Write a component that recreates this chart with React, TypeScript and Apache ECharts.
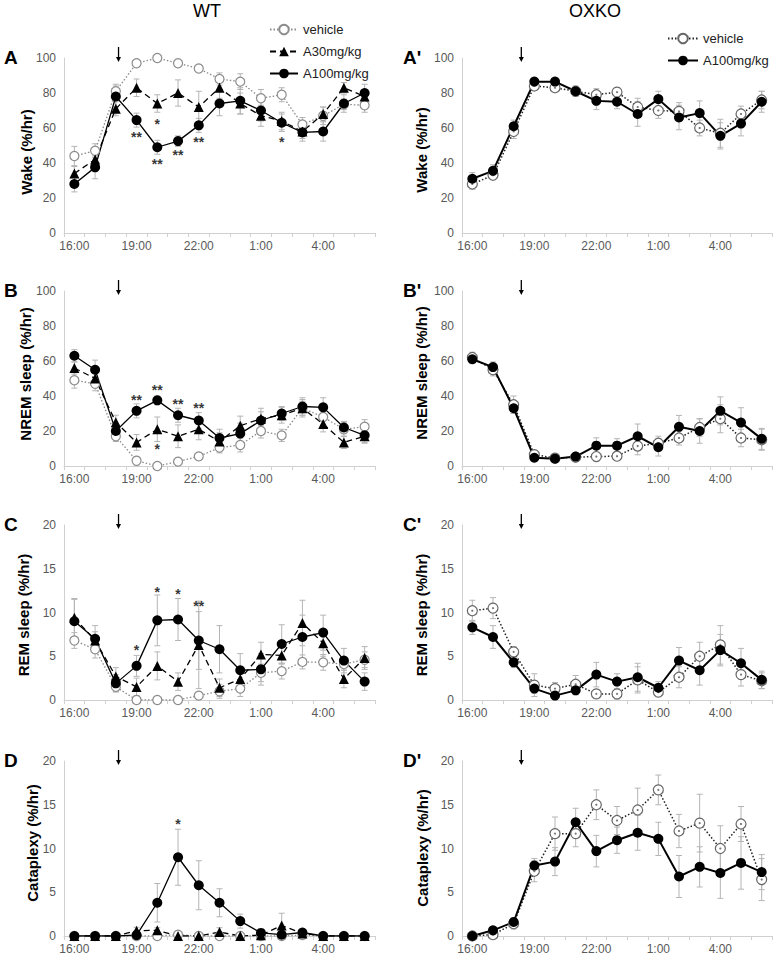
import React, { useEffect, useRef } from 'react';
import * as echarts from 'echarts';

const FONT = '"Liberation Sans", Arial, sans-serif';
const HOURS = ['16:00','17:00','18:00','19:00','20:00','21:00','22:00','23:00','0:00','1:00','2:00','3:00','4:00','5:00','6:00'];

// WT wake
const wtWakeVeh = [44, 47, 81, 97, 100, 97, 94, 88, 86.5, 77, 79, 62, 67, 73.5, 73];
const wtWakeVehErr = [5.5, 4, 4, 2, 1, 1.5, 2, 3.5, 4.5, 5, 4, 4, 5, 3, 4];
const wtWakeA30 = [34, 42, 71, 83, 74, 80, 72, 83, 74, 67, 64, 58, 68, 83, 78];
const wtWakeA30Err = [4, 6, 4, 5, 5, 7.5, 9, 6, 6, 6, 5, 4, 4, 3, 4];
const wtWakeA100 = [28, 37.5, 78, 64.5, 49, 52.5, 61.5, 74, 75.5, 70, 63, 57.5, 58, 74, 80];
const wtWakeA100Err = [4.5, 6.5, 6, 4, 4, 3, 4, 7, 7.5, 6, 5, 5, 5.5, 5, 5];
const wtWakeStars = [[3, 56.5, '**'], [4, 64, '*'], [4, 41, '**'], [5, 46, '**'], [6, 53.5, '**'], [10, 53.5, '*']];

// OXKO wake
const koWakeVeh = [28, 33, 58, 84, 83, 81, 79, 80.5, 72, 70, 69.5, 60, 57, 68, 76];
const koWakeVehErr = [3, 2.5, 4, 1.5, 2, 2, 3.5, 2.5, 5, 4.5, 5, 4.5, 8, 4.5, 5];
const koWakeA100 = [31, 35.5, 61, 86.5, 86.5, 81, 75.5, 75, 68, 76.5, 66, 68.5, 55.5, 62.5, 75];
const koWakeA100Err = [3.5, 3.5, 3.5, 1.5, 1.5, 3, 5, 4, 7, 4.5, 7, 7, 7.5, 7, 6];

// WT NREM
const wtNremVeh = [49, 47, 17, 3, 0, 2.5, 5.5, 10.5, 12, 20, 17.5, 33, 28, 21, 22.5];
const wtNremVehErr = [4.5, 4, 3, 2.5, 0.5, 1.5, 2, 3, 4, 4, 3.5, 4, 4.5, 4, 4];
const wtNremA30 = [56, 50, 25, 13.5, 21, 17, 21, 14, 23, 27, 29, 33, 24, 13.5, 17];
const wtNremA30Err = [3.5, 5, 4, 4.5, 7, 6.5, 6, 5, 5.5, 4, 4.5, 5, 4.5, 3.5, 4];
const wtNremA100 = [63, 55, 20, 31.5, 37.5, 29, 26, 16, 18.5, 26, 30, 34, 33.5, 22, 17.5];
const wtNremA100Err = [3.5, 5.5, 4, 4, 2.5, 4, 4.5, 5, 6, 7, 4, 5, 5.5, 3.5, 4];
const wtNremStars = [[3, 39.4, '**'], [4, 45, '**'], [5, 37, '**'], [6, 34.7, '**'], [4, 11.4, '*']];

// OXKO NREM
const koNremVeh = [62, 55, 35, 6.5, 4.5, 5, 5.4, 5.6, 11.4, 13, 16, 22, 27, 16, 15];
const koNremVehErr = [3, 3.5, 5, 2, 1.5, 1.5, 2, 2, 5, 4, 4, 5, 8, 5, 6];
const koNremA100 = [61, 56.5, 33, 4.7, 4.2, 5.4, 11.6, 11.6, 17, 10.7, 22.4, 20, 31.5, 24.8, 15.5];
const koNremA100Err = [2.5, 3, 3, 1.5, 1.5, 1.5, 4.5, 4, 7, 5, 6.5, 7, 8, 8.5, 6];

// WT REM
const wtRemVeh = [6.8, 5.8, 1.5, 0, 0, 0, 0.5, 1.0, 1.3, 3.1, 3.3, 4.35, 4.3, 4.1, 4.6];
const wtRemVehErr = [0.9, 1, 0.5, 0.3, 0.1, 0.2, 0.4, 0.8, 0.9, 1, 0.9, 0.8, 0.9, 0.7, 0.9];
const wtRemA30 = [9.4, 6.8, 2.7, 1.5, 3.9, 2.1, 6.3, 1.4, 2.4, 5.2, 5.1, 8.8, 6.5, 2.4, 4.8];
const wtRemA30Err = [2.2, 1, 1, 1, 1.6, 1, 5, 1, 1, 1.4, 1, 2.6, 1.5, 1, 1.3];
const wtRemA100 = [9.0, 7.0, 1.9, 3.9, 9.1, 9.2, 6.8, 5.8, 3.4, 3.5, 6.4, 7.2, 7.7, 4.5, 2.1];
const wtRemA100Err = [2.5, 1.5, 1, 1.2, 2.9, 2.4, 3.3, 2.7, 1.9, 1.8, 2.2, 2.5, 2, 1.4, 1];
const wtRemStars = [[3, 6.0, '*'], [4, 12.6, '*'], [5, 12.4, '*'], [6, 11.0, '**']];

// OXKO REM
const koRemVeh = [10.2, 10.5, 5.5, 1.7, 1.3, 1.8, 0.7, 0.7, 2.3, 0.9, 2.6, 5.0, 6.3, 2.9, 2.2];
const koRemVehErr = [1.2, 1.2, 0.6, 1.3, 0.7, 1, 0.5, 0.6, 1.5, 0.4, 1.2, 1.6, 2.2, 1.3, 0.9];
const koRemA100 = [8.3, 7.2, 4.3, 1.3, 0.5, 1.1, 2.9, 2.1, 2.6, 1.4, 4.5, 3.4, 5.7, 4.2, 2.3];
const koRemA100Err = [0.8, 1.3, 0.6, 0.5, 0.4, 0.5, 1.4, 0.9, 1.6, 0.7, 1.5, 1.7, 1.8, 1.7, 1];

// WT cataplexy
const wtCatVeh = [0, 0, 0, 0, 0, 0.15, 0, 0, 0, 0, 0, 0.1, 0, 0, 0];
const wtCatVehErr = [0, 0, 0, 0, 0, 0.2, 0, 0, 0, 0, 0, 0.1, 0, 0, 0];
const wtCatA30 = [0, 0, 0, 0.6, 0.65, 0, 0, 0.45, 0, 0.1, 1.2, 0.3, 0, 0, 0];
const wtCatA30Err = [0, 0, 0, 0.4, 0.3, 0, 0, 0.5, 0, 0.1, 1.4, 0.2, 0, 0, 0];
const wtCatA100 = [0, 0, 0, 0.1, 3.8, 9.0, 5.8, 3.8, 1.7, 0.35, 0.15, 0.4, 0, 0, 0];
const wtCatA100Err = [0, 0, 0, 0.2, 2.2, 3.2, 2.8, 1.6, 0.8, 0.3, 0.2, 0.3, 0, 0, 0];
const wtCatStars = [[5, 13.05, '*']];

// OXKO cataplexy
const koCatVeh = [0, 0.15, 1.4, 7.4, 11.7, 11.7, 15.0, 13.2, 14.4, 16.7, 12.0, 12.9, 10.0, 12.8, 6.45];
const koCatVehErr = [0, 0.2, 0.6, 1.2, 1.9, 1.5, 1.7, 1.6, 2.5, 1.7, 1.9, 3.3, 2.6, 2.0, 2.4];
const koCatA100 = [0, 0.65, 1.6, 8.05, 8.5, 13.0, 9.7, 10.95, 11.8, 11.1, 6.8, 7.9, 7.2, 8.35, 7.3];
const koCatA100Err = [0, 0.3, 0.5, 0.8, 1.6, 1.6, 1.8, 1.5, 2, 1.9, 2.4, 2.3, 2.9, 3, 2];

// arrows (fractional category index of the injection)
const WT_ARROW = 2.13;
const KO_ARROW = 2.37;

type S = [string, number[], number[]];
interface Panel {
  side: 'L' | 'R';
  top: number;
  yMax: number;
  step: number;
  letter: string;
  yName: string;
  nameX: number;
  nameY: number;
  series: S[];
  stars: (number | string)[][];
}

const panels: Panel[] = [
  { side: 'L', top: 58, yMax: 100, step: 20, letter: 'A', yName: 'Wake (%/hr)', nameX: 26, nameY: 152,
    series: [['wtVeh', wtWakeVeh, wtWakeVehErr], ['wtA30', wtWakeA30, wtWakeA30Err], ['wtA100', wtWakeA100, wtWakeA100Err]], stars: wtWakeStars },
  { side: 'R', top: 58, yMax: 100, step: 20, letter: "A'", yName: 'Wake (%/hr)', nameX: 421, nameY: 150,
    series: [['koVeh', koWakeVeh, koWakeVehErr], ['koA100', koWakeA100, koWakeA100Err]], stars: [] },
  { side: 'L', top: 291, yMax: 100, step: 20, letter: 'B', yName: 'NREM sleep (%/hr)', nameX: 25, nameY: 374,
    series: [['wtVeh', wtNremVeh, wtNremVehErr], ['wtA30', wtNremA30, wtNremA30Err], ['wtA100', wtNremA100, wtNremA100Err]], stars: wtNremStars },
  { side: 'R', top: 291, yMax: 100, step: 20, letter: "B'", yName: 'NREM sleep (%/hr)', nameX: 421, nameY: 373,
    series: [['koVeh', koNremVeh, koNremVehErr], ['koA100', koNremA100, koNremA100Err]], stars: [] },
  { side: 'L', top: 525, yMax: 20, step: 5, letter: 'C', yName: 'REM sleep (%/hr)', nameX: 23, nameY: 615,
    series: [['wtVeh', wtRemVeh, wtRemVehErr], ['wtA30', wtRemA30, wtRemA30Err], ['wtA100', wtRemA100, wtRemA100Err]], stars: wtRemStars },
  { side: 'R', top: 525, yMax: 20, step: 5, letter: "C'", yName: 'REM sleep (%/hr)', nameX: 421, nameY: 615,
    series: [['koVeh', koRemVeh, koRemVehErr], ['koA100', koRemA100, koRemA100Err]], stars: [] },
  { side: 'L', top: 761, yMax: 20, step: 5, letter: 'D', yName: 'Cataplexy (%/hr)', nameX: 32, nameY: 843,
    series: [['wtVeh', wtCatVeh, wtCatVehErr], ['wtA30', wtCatA30, wtCatA30Err], ['wtA100', wtCatA100, wtCatA100Err]], stars: wtCatStars },
  { side: 'R', top: 761, yMax: 20, step: 5, letter: "D'", yName: 'Cataplexy (%/hr)', nameX: 422, nameY: 848,
    series: [['koVeh', koCatVeh, koCatVehErr], ['koA100', koCatA100, koCatA100Err]], stars: [] },
];

const STYLES: Record<string, any> = {
  wtVeh: { name: 'vehicle', symbol: 'circle', symbolSize: 9,
    lineStyle: { type: [1.5, 2], color: '#8a8a8a', width: 1.3 },
    itemStyle: { color: '#ffffff', borderColor: '#8c8c8c', borderWidth: 1.2 } },
  wtA30: { name: 'A30mg/kg', symbol: 'triangle', symbolSize: 10,
    lineStyle: { type: [6, 4], color: '#000', width: 1.3 },
    itemStyle: { color: '#000' } },
  wtA100: { name: 'A100mg/kg', symbol: 'circle', symbolSize: 10,
    lineStyle: { type: 'solid', color: '#000', width: 1.3 },
    itemStyle: { color: '#000' } },
  koVeh: { name: 'OXKO vehicle', symbol: 'circle', symbolSize: 10,
    lineStyle: { type: [1.5, 2], color: '#222', width: 1.5 },
    itemStyle: { color: '#ffffff', borderColor: '#666', borderWidth: 1.2 } },
  koA100: { name: 'OXKO A100mg/kg', symbol: 'circle', symbolSize: 10,
    lineStyle: { type: 'solid', color: '#000', width: 2 },
    itemStyle: { color: '#000' } },
};

const errRender = (params: any, api: any) => {
  const i = api.value(0);
  const v = api.value(1);
  const e = api.value(2);
  if (!e) return { type: 'group', children: [] };
  const hi = api.coord([i, v + e]);
  const lo = api.coord([i, Math.max(0, v - e)]);
  const w = 3;
  const style = { stroke: '#b5b5b5', lineWidth: 1 };
  return {
    type: 'group',
    children: [
      { type: 'line', shape: { x1: hi[0], y1: hi[1], x2: lo[0], y2: lo[1] }, style },
      { type: 'line', shape: { x1: hi[0] - w, y1: hi[1], x2: hi[0] + w, y2: hi[1] }, style },
      { type: 'line', shape: { x1: lo[0] - w, y1: lo[1], x2: lo[0] + w, y2: lo[1] }, style },
    ],
  };
};

export default function App() {
  const ref = useRef<HTMLDivElement>(null);
  useEffect(() => {
    if (!ref.current) return;
    const chart = echarts.init(ref.current, undefined, { renderer: 'svg' });
    const grid: any[] = [];
    const xAxis: any[] = [];
    const yAxis: any[] = [];
    const series: any[] = [];
    panels.forEach((p, g) => {
      grid.push({ left: p.side === 'L' ? 64 : 462, width: p.side === 'L' ? 311 : 310, top: p.top, height: 175 });
      xAxis.push({
        type: 'category', gridIndex: g, data: HOURS, boundaryGap: true,
        axisLine: { show: true, lineStyle: { color: '#d0d0d0', width: 1 } },
        axisTick: { show: true, interval: 0, length: 4, lineStyle: { color: '#d0d0d0' } },
        axisLabel: { interval: 2, color: '#595959', fontSize: 12, margin: 7, fontFamily: FONT },
        splitLine: { show: false },
      });
      yAxis.push({
        type: 'value', gridIndex: g, min: 0, max: p.yMax, interval: p.step,
        axisLine: { show: true, lineStyle: { color: '#d0d0d0', width: 1 } },
        axisTick: { show: false },
        axisLabel: { color: '#595959', fontSize: 12, margin: 8, fontFamily: FONT },
        splitLine: { show: false },
      });
      p.series.forEach(([kind, vals, errs]) => {
        series.push({
          type: 'custom', name: 'err-' + kind, xAxisIndex: g, yAxisIndex: g, z: 1,
          renderItem: errRender, encode: { x: 0, y: 1 }, silent: true,
          data: vals.map((v, i) => [i, v, errs[i]]),
        });
      });
      p.series.forEach(([kind, vals]) => {
        const st = STYLES[kind];
        series.push({
          type: 'line', xAxisIndex: g, yAxisIndex: g, z: 2, ...st,
          showAllSymbol: true, data: vals, silent: true,
        });
        if (kind === 'koVeh') {
          series.push({
            type: 'scatter', name: 'dot', xAxisIndex: g, yAxisIndex: g, z: 2, silent: true,
            symbol: 'circle', symbolSize: 2.2, itemStyle: { color: '#555' },
            data: vals.map((v, i) => [i, v]),
          });
        }
      });
      if (p.stars.length) {
        series.push({
          type: 'scatter', name: 'stars', xAxisIndex: g, yAxisIndex: g, z: 4, silent: true,
          symbol: 'circle', symbolSize: 1, itemStyle: { color: 'rgba(0,0,0,0)' },
          label: { show: true, position: 'top', distance: 0, formatter: (q: any) => q.data[2], color: '#000',
            fontSize: 14, fontWeight: 'bold', fontFamily: FONT, offset: [0, 10] },
          data: p.stars,
        });
      }
    });

    const option: any = {
      animation: false,
      textStyle: { fontFamily: FONT },
      grid, xAxis, yAxis, series,
      legend: [
        { data: ['vehicle', 'A30mg/kg', 'A100mg/kg'], orient: 'vertical', left: 264, top: 18,
          itemWidth: 28, itemHeight: 12, itemGap: 9, selectedMode: false,
          textStyle: { fontSize: 13, color: '#222', fontFamily: FONT } },
        { data: ['OXKO vehicle', 'OXKO A100mg/kg'], orient: 'vertical', left: 662, top: 27,
          itemWidth: 30, itemHeight: 12, itemGap: 9, selectedMode: false,
          formatter: (n: string) => n.replace('OXKO ', ''),
          textStyle: { fontSize: 13, color: '#222', fontFamily: FONT } },
      ],
    };
    chart.setOption(option);

    const graphic: any[] = [
      { type: 'text', x: 207, y: 11, style: { text: 'WT', fontSize: 18, fontFamily: FONT, fill: '#000', textAlign: 'center', textVerticalAlign: 'middle' } },
      { type: 'text', x: 595, y: 11, style: { text: 'OXKO', fontSize: 18, fontFamily: FONT, fill: '#000', textAlign: 'center', textVerticalAlign: 'middle' } },
    ];
    panels.forEach((p, g) => {
      graphic.push({ type: 'text', x: p.side === 'L' ? 4 : 403, y: p.top - 1,
        style: { text: p.letter, fontSize: 19, fontWeight: 'bold', fontFamily: FONT, fill: '#000', textVerticalAlign: 'middle' } });
      graphic.push({ type: 'text', x: p.nameX, y: p.nameY, rotation: Math.PI / 2,
        style: { text: p.yName, fontSize: 15, fontWeight: 'bold', fontFamily: FONT, fill: '#000', textAlign: 'center', textVerticalAlign: 'middle' } });
      const frac = p.side === 'L' ? WT_ARROW : KO_ARROW;
      const a = chart.convertToPixel({ gridIndex: g } as any, [HOURS[2], p.yMax]) as number[];
      const b = chart.convertToPixel({ gridIndex: g } as any, [HOURS[3], p.yMax]) as number[];
      const x = a[0] + (b[0] - a[0]) * (frac - 2);
      const y1 = a[1] - 11;
      const y2 = a[1] + 4;
      graphic.push({ type: 'line', shape: { x1: x, y1, x2: x, y2: y2 - 3 }, style: { stroke: '#000', lineWidth: 1.3 } });
      graphic.push({ type: 'polygon', shape: { points: [[x - 2.5, y2 - 5], [x + 2.5, y2 - 5], [x, y2]] }, style: { fill: '#000' } });
    });
    chart.setOption({ graphic });

    return () => chart.dispose();
  }, []);
  return <div ref={ref} style={{ position: 'absolute', left: 0, top: 0, width: 782, height: 956 }} />;
}
